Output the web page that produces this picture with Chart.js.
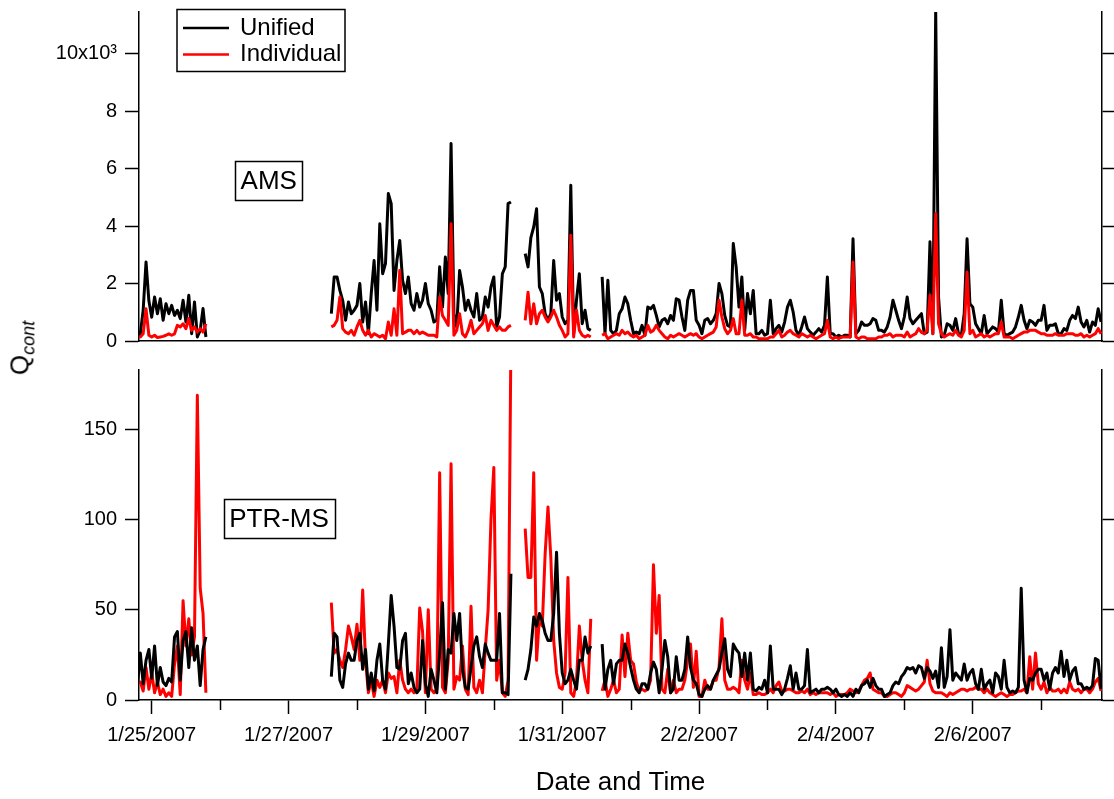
<!DOCTYPE html>
<html>
<head>
<meta charset="utf-8">
<script src="https://cdn.jsdelivr.net/npm/chart.js@4.4.1/dist/chart.umd.min.js"></script>
<style>
  body { margin: 0; background: #fff; width: 1114px; height: 799px; overflow: hidden; position: relative; }
  canvas { position: absolute; left: 0; }
  #ams { top: 0; }
  #ptr { top: 352px; }
  #qlab {
    position: absolute; left: 22px; top: 348px; white-space: nowrap;
    transform: translate(-50%, -50%) rotate(-90deg);
    font: 26px "Liberation Sans", Arial, sans-serif; color: #000;
  }
  #qlab sub { font-size: 18px; font-style: italic; }
</style>
</head>
<body>
<canvas id="ams" width="1114" height="356"></canvas>
<canvas id="ptr" width="1114" height="447"></canvas>
<div id="qlab">Q<sub>cont</sub></div>
<script>
// hour (after 1/25/2007 00:00) of the first value of each unbroken run, one value per hour
const runStart = [-5, 63, 131, 158]

// AMS, Q_cont
const amsUnified = [
  [200, 250, 1070, 2750, 1400, 830, 1530, 950, 1470, 720, 1300, 950, 1240, 890, 1070, 780, 1420, 660, 1590, 255, 1360, 140, 370, 1130, 140],
  [950, 2230, 2230, 1760, 1400, 720, 1360, 950, 1070, 1240, 2000, 660, 1360, 255, 1650, 2800, 1070, 4080,
   2340, 2690, 5130, 4780, 1760, 2800, 3500, 2110, 1650, 2230, 1300, 1070, 1650, 1180, 1420, 2000, 1300, 1070, 660, 720,
   2580, 1180, 2920, 1650, 6870, 950, 490, 2450, 1880, 1070, 1420, 1070, 835, 1650, 720, 835, 1530, 1180, 1880, 2230,
   490, 835, 2340, 2580, 4780, 4840],
  [3040, 2580, 3600, 3970, 4600, 1880, 1650, 950, 720, 950, 2800, 1420, 1650, 835, 600, 720, 5420, 255, 1420, 2340, 600, 1070, 430, 370],
  [2230, 255, 2110, 370, 255, 370, 950,
   1120, 1530, 1300, 720, 255, 310, 255, 545, 200, 1180, 1120, 1240, 890, 490, 720, 780, 600, 890, 720, 1470,
   1420, 835, 370, 1420, 1760, 1760, 720, 545, 255, 720, 780, 600, 720, 950, 2000, 1650, 890, 545, 490, 3390,
   2580, 1180, 2230, 370, 1650, 950, 1760, 255, 255, 370, 200, 255, 1420, 255, 430, 545, 310, 660, 1180, 1420,
   1010, 370, 200, 490, 835, 430, 310, 200, 310, 430, 310, 545, 2230, 255, 255, 140, 200, 140, 200, 200,
   140, 3560, 255, 370,
   660, 545, 545, 600, 780, 720, 370, 370, 310, 490, 835, 1420, 1070, 720, 430, 835, 1530, 780, 600, 720,
   835, 950, 255, 310, 3450, 255, 11500, 1530, 140, 200, 600, 545, 370, 780, 255, 200, 950, 3560, 1300, 1180,
   600, 430, 255, 890, 255, 370, 490, 430, 310, 1420, 255, 200, 255, 310, 490, 835, 1240, 720, 430, 720,
   660, 545, 720, 720, 1240, 370, 545, 545, 600, 255, 255, 430, 370, 720, 890, 780, 1180, 660, 490, 720,
   310, 660, 545, 1120, 660]
]
const amsIndividual = [
  [140, 140, 250, 1120, 200, 140, 200, 120, 140, 160, 200, 250, 200, 250, 545, 490, 600, 430, 780, 370, 490, 310, 430, 310, 600],
  [490, 545, 720, 1530, 430, 310, 255, 370, 200, 490, 720, 370, 200, 370, 140, 255, 200, 140,
   200, 80, 660, 200, 1120, 200, 2450, 255, 310, 370, 370, 255, 370, 255, 310, 255, 200, 200, 200, 140,
   1530, 890, 720, 545, 4080, 200, 370, 950, 255, 140, 370, 720, 255, 370, 490, 600, 890, 370, 720, 545,
   370, 490, 370, 370, 490, 545],
  [720, 1700, 600, 1300, 600, 950, 1070, 835, 660, 835, 1070, 835, 545, 370, 140, 255, 3680, 140, 1070, 370, 200, 140, 200, 140],
  [200, 255, 80, 140, 200, 255, 200,
   370, 255, 310, 200, 140, 200, 80, 140, 200, 545, 310, 370, 545, 370, 255, 140, 80, 200, 140, 200,
   255, 200, 140, 200, 255, 200, 255, 140, 80, 140, 200, 255, 310, 490, 1420, 835, 430, 255, 370, 780,
   255, 255, 1420, 200, 200, 255, 140, 140, 80, 80, 80, 80, 140, 140, 255, 370, 140, 200, 310, 370,
   255, 200, 140, 255, 200, 140, 200, 140, 80, 140, 200, 255, 720, 140, 80, 140, 80, 140, 140, 140,
   140, 2750, 140, 80,
   140, 140, 80, 80, 80, 80, 140, 140, 200, 200, 255, 140, 200, 200, 200, 140, 310, 140, 200, 255,
   430, 300, 255, 370, 1590, 255, 4430, 600, 255, 140, 200, 255, 200, 370, 200, 140, 370, 2400, 255, 370,
   140, 200, 255, 140, 200, 140, 200, 255, 255, 660, 140, 140, 140, 80, 140, 200, 255, 310, 310, 370,
   370, 370, 310, 255, 255, 200, 200, 200, 255, 200, 200, 200, 255, 255, 255, 200, 200, 255, 140, 200,
   140, 200, 255, 430, 255]
]

// PTR-MS, Q_cont
const ptrUnified = [
  [8, 26, 9, 22, 28, 12, 30, 8, 18, 10, 8, 12, 10, 35, 38, 11, 33, 38, 18, 40, 22, 30, 8, 28, 35],
  [13, 37, 35, 11, 7, 20, 26, 22, 22, 33, 37, 17, 28, 6, 15, 5, 22, 31,
   11, 6, 31, 58, 41, 18, 17, 33, 37, 9, 15, 7, 4, 6, 33, 9, 2, 17, 11, 4,
   26, 54, 6, 28, 26, 48, 33, 48, 17, 7, 6, 18, 30, 35, 24, 18, 31, 26, 22, 22,
   22, 48, 4, 4, 3, 70],
  [11, 17, 28, 46, 41, 48, 44, 37, 33, 33, 48, 82, 37, 15, 9, 11, 17, 11, 6, 22, 22, 35, 26, 30],
  [31, 6, 17, 22, 9, 20, 22,
   22, 31, 26, 18, 11, 6, 4, 9, 9, 6, 15, 21, 17, 4, 17, 33, 24, 4, 6, 24,
   11, 11, 17, 35, 18, 11, 9, 3, 2, 6, 8, 6, 11, 14, 17, 26, 34, 17, 13, 31,
   28, 26, 13, 26, 11, 26, 6, 5, 7, 6, 11, 4, 30, 6, 6, 6, 3, 6, 12, 19,
   6, 15, 6, 6, 8, 28, 4, 5, 6, 4, 6, 6, 7, 6, 4, 6, 3, 2, 3, 2,
   4, 2, 6, 4,
   8, 9, 11, 7, 12, 8, 6, 6, 2, 3, 4, 8, 10, 9, 13, 15, 18, 17, 18, 15,
   19, 18, 12, 18, 16, 12, 16, 7, 29, 7, 13, 39, 11, 15, 13, 11, 20, 11, 15, 17,
   9, 6, 17, 6, 9, 11, 4, 15, 13, 6, 22, 7, 4, 5, 4, 7, 62, 11, 4, 12,
   11, 15, 17, 17, 11, 15, 6, 15, 18, 15, 27, 13, 22, 11, 16, 18, 9, 9, 6, 7,
   6, 8, 23, 22, 6]
]
const ptrIndividual = [
  [10, 10, 5, 18, 6, 15, 4, 10, 3, 6, 2, 4, 2, 20, 30, 3, 55, 30, 45, 25, 35, 169, 62, 48, 4],
  [54, 26, 28, 22, 18, 28, 41, 35, 28, 42, 22, 61, 22, 4, 11, 2, 11, 7,
   11, 4, 15, 12, 13, 4, 22, 11, 6, 4, 6, 4, 6, 51, 38, 4, 50, 6, 4, 6,
   126, 7, 4, 22, 131, 6, 13, 11, 30, 6, 3, 52, 7, 4, 11, 4, 28, 50, 100, 129,
   11, 22, 4, 2, 11, 200],
  [95, 68, 68, 126, 22, 46, 41, 81, 107, 79, 33, 15, 7, 6, 15, 68, 4, 2, 11, 41, 22, 11, 4, 45],
  [5, 11, 2, 6, 11, 4, 6,
   36, 13, 37, 22, 20, 10, 5, 6, 5, 6, 11, 75, 37, 58, 6, 4, 17, 4, 11, 4,
   6, 6, 11, 22, 31, 7, 27, 2, 2, 11, 6, 6, 11, 11, 18, 45, 11, 6, 6, 7,
   6, 4, 22, 11, 6, 15, 3, 3, 4, 3, 3, 4, 6, 4, 8, 10, 5, 5, 6, 6,
   5, 4, 4, 5, 4, 6, 3, 4, 3, 4, 4, 4, 4, 3, 4, 2, 3, 3, 3, 4,
   6, 5, 4, 5,
   8, 11, 12, 15, 6, 5, 4, 4, 2, 2, 3, 4, 4, 3, 2, 4, 8, 7, 6, 5,
   6, 8, 10, 22, 9, 5, 4, 4, 4, 3, 2, 4, 3, 4, 5, 6, 6, 5, 6, 6,
   7, 6, 6, 4, 6, 4, 3, 2, 3, 4, 3, 2, 3, 3, 4, 5, 5, 6, 4, 24,
   6, 26, 9, 6, 10, 4, 7, 5, 5, 6, 4, 6, 4, 10, 6, 5, 6, 4, 6, 6,
   4, 6, 10, 12, 5]
]

// axes: x in days after 1/25/2007 00:00
const xMin = -0.186, xMax = 13.889
const tickDays = [0, 1, 2, 3, 4, 5, 6, 7, 8, 9, 10, 11, 12, 13]
const tickText = ['1/25/2007', '1/27/2007', '1/29/2007', '1/31/2007', '2/2/2007', '2/4/2007', '2/6/2007']
const amsTicks = [0, 2000, 4000, 6000, 8000, 10000]
const ptrTicks = [0, 50, 100, 150]

const FONT = '"Liberation Sans", Arial, sans-serif'
Chart.defaults.font.family = FONT
Chart.defaults.font.size = 20
Chart.defaults.color = '#000'

function points(runs) {
  let pts = []
  for (let k = 0; k < runs.length; k++) {
    if (k > 0) pts.push({x: (runStart[k] - 0.5) / 24, y: null})   // break the line between runs
    for (let i = 0; i < runs[k].length; i++)
      pts.push({x: (runStart[k] + i) / 24, y: runs[k][i]})
  }
  return pts
}

// boxed panel name, legend and the short minor ticks of the date axis
const notes = {
  id: 'notes',
  afterDraw(chart, args, o) {
    let ctx = chart.ctx
    let sx = chart.scales.x, sy = chart.scales.y
    ctx.save()
    ctx.fillStyle = '#000'
    ctx.strokeStyle = '#000'
    ctx.lineWidth = 1.5
    ctx.textBaseline = 'middle'

    ctx.font = '26px ' + FONT
    ctx.textAlign = 'center'
    let px = sx.getPixelForValue(o.x), py = sy.getPixelForValue(o.y)
    let w = ctx.measureText(o.text).width + 11
    ctx.strokeRect(Math.round(px - w / 2) + 0.5, Math.round(py - 19.5) + 0.5, Math.round(w), 39)
    ctx.fillText(o.text, px, py + 1)

    if (o.legend) {
      ctx.strokeRect(177, 9.5, 168, 62)
      ctx.font = '24px ' + FONT
      ctx.textAlign = 'left'
      let sets = chart.data.datasets
      for (let i = 0; i < sets.length; i++) {
        let ly = 28 + i * 26.5
        ctx.strokeStyle = sets[i].borderColor
        ctx.lineWidth = 2.5
        ctx.beginPath()
        ctx.moveTo(183, ly)
        ctx.lineTo(229, ly)
        ctx.stroke()
        ctx.fillText(sets[i].label, 240, ly)
      }
    }

    if (o.minorTicks) {
      ctx.strokeStyle = '#000'
      ctx.lineWidth = 1.5
      let y0 = chart.chartArea.bottom
      for (let d of tickDays) {
        if (d % 2 === 0) continue
        let x = Math.round(sx.getPixelForValue(d)) + 0.5
        ctx.beginPath()
        ctx.moveTo(x, y0)
        ctx.lineTo(x, y0 + 10)
        ctx.stroke()
      }
    }
    ctx.restore()
  }
}

function yAxis(max, tickVals, side, labelFn) {
  return {
    type: 'linear', position: side, min: 0, max: max,
    afterBuildTicks: s => { s.ticks = tickVals.map(v => ({value: v})) },
    ticks: {padding: 8, display: side === 'left', callback: labelFn},
    grid: {drawOnChartArea: false, tickLength: 14, tickWidth: 1.5, tickColor: '#000'},
    border: {color: '#000', width: 1.5},
    afterFit: s => {
      s.width = side === 'left' ? 139 : 12
      s.paddingTop = 0
      s.paddingBottom = 0
    }
  }
}

function lineSet(label, runs, color, order) {
  return {label: label, data: points(runs), borderColor: color, order: order,
    borderWidth: 3, pointRadius: 0, tension: 0, borderJoinStyle: 'round', spanGaps: false}
}

// AMS panel
new Chart(document.getElementById('ams'), {
  type: 'line',
  data: {
    datasets: [
      lineSet('Unified', amsUnified, '#000000', 1),
      lineSet('Individual', amsIndividual, '#ff0000', 0)
    ]
  },
  options: {
    responsive: false,
    animation: false,
    events: [],
    layout: {padding: {top: 12, bottom: 15, left: 0, right: 0}},
    plugins: {
      legend: {display: false},
      tooltip: {enabled: false},
      notes: {text: 'AMS', x: 1.71, y: 5590, legend: true}
    },
    scales: {
      x: {
        type: 'linear', min: xMin, max: xMax,
        ticks: {display: false},
        grid: {display: false},
        border: {color: '#000', width: 1.5},
        afterFit: s => { s.height = 0; s.paddingLeft = 0; s.paddingRight = 0 }
      },
      y: yAxis(11450, amsTicks, 'left', v => v === 10000 ? '10x10³' : String(v / 1000)),
      y1: yAxis(11450, amsTicks, 'right')
    }
  },
  plugins: [notes]
})

// PTR-MS panel
new Chart(document.getElementById('ptr'), {
  type: 'line',
  data: {
    datasets: [
      lineSet('Unified', ptrUnified, '#000000', 0),
      lineSet('Individual', ptrIndividual, '#ff0000', 1)
    ]
  },
  options: {
    responsive: false,
    animation: false,
    events: [],
    layout: {padding: {top: 18, bottom: 0, left: 0, right: 0}},
    plugins: {
      legend: {display: false},
      tooltip: {enabled: false},
      notes: {text: 'PTR-MS', x: 1.86, y: 100.4, minorTicks: true}
    },
    scales: {
      x: {
        type: 'linear', min: xMin, max: xMax,
        afterBuildTicks: s => { s.ticks = tickDays.map(d => ({value: d})) },
        ticks: {
          autoSkip: false, maxRotation: 0, minRotation: 0, padding: 9,
          callback: v => v % 2 === 0 ? tickText[v / 2] : ''
        },
        grid: {
          drawOnChartArea: false, tickLength: 14, tickWidth: 1.5,
          tickColor: c => (c.tick && c.tick.value % 2 === 0) ? '#000' : 'rgba(0,0,0,0)'
        },
        border: {color: '#000', width: 1.5},
        title: {display: true, text: 'Date and Time', font: {size: 26}, padding: {top: 0, bottom: 1}},
        afterFit: s => { s.height = 99; s.paddingLeft = 0; s.paddingRight = 0 }
      },
      y: yAxis(183, ptrTicks, 'left', v => String(v)),
      y1: yAxis(183, ptrTicks, 'right')
    }
  },
  plugins: [notes]
})
</script>
</body>
</html>
